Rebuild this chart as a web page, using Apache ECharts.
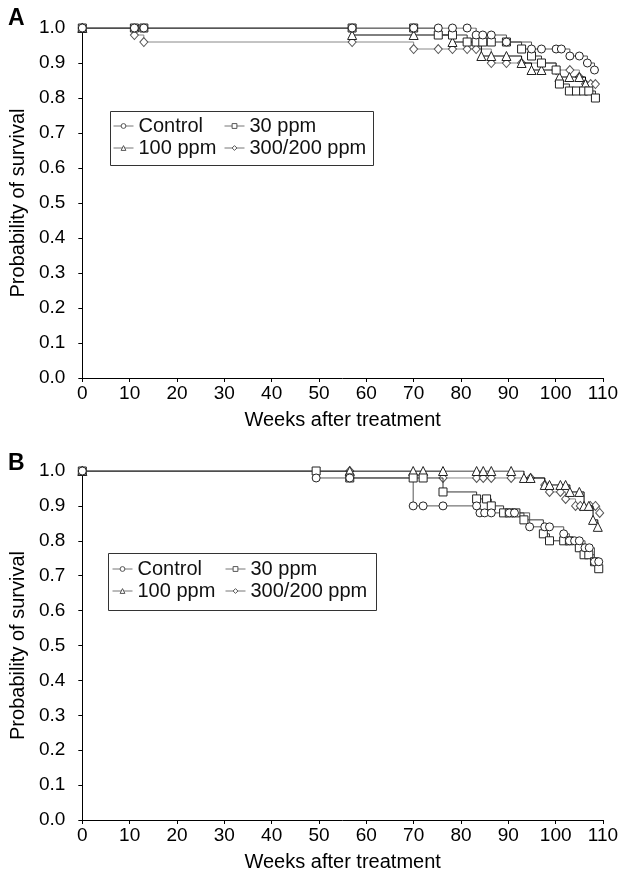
<!DOCTYPE html>
<html>
<head>
<meta charset="utf-8">
<title>Survival</title>
<script src="https://cdn.jsdelivr.net/npm/echarts@6/dist/echarts.min.js"></script>
<style>
  html, body { margin: 0; padding: 0; background: #fff; }
  #chart { width: 644px; height: 874px; }
</style>
</head>
<body>
<div id="chart"></div>
<script>
// Kaplan-Meier points: [week, probability]
var seriesNames = ['Control', '30 ppm', '100 ppm', '300/200 ppm'];
var xTicks = [0, 10, 20, 30, 40, 50, 60, 70, 80, 90, 100, 110];

// panel A
var aControl = [[0, 1], [11, 1], [13, 1], [57, 1], [70, 1], [75.2, 1], [78.2, 1], [81.3, 1], [83.2, 0.98], [84.6, 0.98], [86.4, 0.98],
	[89.6, 0.96], [94.9, 0.94], [97, 0.94], [100.1, 0.94], [101.2, 0.94], [103, 0.92], [105, 0.92], [106.7, 0.90], [108.2, 0.88]];
var a30 = [[0, 1], [11, 1], [13, 1], [57, 1], [70, 1], [75.2, 0.98], [78.2, 0.98], [81.3, 0.96], [83.2, 0.96], [84.6, 0.96], [86.4, 0.96],
	[89.6, 0.96], [92.8, 0.94], [94.9, 0.92], [97, 0.90], [100.1, 0.88], [100.8, 0.84], [102.9, 0.82], [104.4, 0.82], [105.9, 0.82], [107, 0.82], [108.4, 0.80]];
var a100 = [[0, 1], [57, 0.98], [70, 0.98], [78.2, 0.96], [84.3, 0.92], [86.4, 0.92], [89.6, 0.92], [92.8, 0.90], [94.9, 0.88], [97, 0.88],
	[100.8, 0.86], [102.9, 0.86], [105, 0.86], [106.3, 0.84]];
var a300 = [[0, 1], [11, 0.98], [13, 0.96], [57, 0.96], [70, 0.94], [75.2, 0.94], [78.2, 0.94], [81.3, 0.94], [83.2, 0.94], [86.4, 0.90],
	[89.6, 0.90], [92.8, 0.90], [100.1, 0.88], [103, 0.88], [105, 0.86], [106.3, 0.84], [107.4, 0.84], [108.4, 0.84]];

// panel B
var bControl = [[0, 1], [49.4, 0.98], [56.5, 0.98], [69.9, 0.90], [72, 0.90], [76.2, 0.90], [83.3, 0.90], [84, 0.88], [85, 0.88], [86.4, 0.88],
	[90.2, 0.88], [91.3, 0.88], [94.5, 0.84], [97.7, 0.84], [98.7, 0.84], [101.7, 0.82], [102.9, 0.80], [104, 0.80], [105, 0.80],
	[106.2, 0.78], [107.1, 0.78], [108.2, 0.74], [109.1, 0.74]];
var b30 = [[0, 1], [49.4, 1], [56.5, 0.98], [69.9, 0.98], [72, 0.98], [76.2, 0.94], [83.3, 0.92], [85.4, 0.92], [86.4, 0.90], [89, 0.88],
	[90.2, 0.88], [91.6, 0.88], [93.3, 0.86], [97.4, 0.82], [98.7, 0.80], [101.7, 0.80], [102.9, 0.80], [105, 0.78], [106, 0.76],
	[107, 0.76], [108.2, 0.74], [109.1, 0.72]];
var b100 = [[0, 1], [56.5, 1], [69.9, 1], [72, 1], [76.2, 1], [83.3, 1], [84.7, 1], [86.4, 1], [90.6, 1], [93.3, 0.98], [94.7, 0.98],
	[97.7, 0.96], [98.7, 0.96], [101, 0.96], [102.1, 0.96], [103, 0.94], [105, 0.94], [106, 0.90], [107, 0.90], [107.9, 0.86], [108.9, 0.84]];
var b300 = [[0, 1], [56.5, 1], [76.2, 0.98], [83.3, 0.98], [84.7, 0.98], [86.4, 0.98], [90.6, 0.98], [94.7, 0.98], [97.7, 0.96],
	[98.7, 0.94], [101, 0.94], [102.1, 0.92], [104.2, 0.90], [105.2, 0.90], [107.3, 0.90], [108.4, 0.90], [109.3, 0.88]];

var FONT = 'Liberation Sans';
var looks = {
	'Control': { symbol: 'circle', size: 8, line: '#555', border: '#222' },
	'30 ppm': { symbol: 'rect', size: 8, line: '#333', border: '#222' },
	'100 ppm': { symbol: 'triangle', size: 9, line: '#000', border: '#222' },
	'300/200 ppm': { symbol: 'diamond', size: [8, 9], line: '#888', border: '#555' }
};

function makeSeries(name, data, idx) {
	var l = looks[name];
	return {
		name: name,
		type: 'line',
		step: 'end',
		xAxisIndex: idx,
		yAxisIndex: idx,
		data: data,
		symbol: l.symbol,
		symbolSize: l.size,
		showAllSymbol: true,
		itemStyle: { color: '#fff', borderColor: l.border, borderWidth: 1 },
		lineStyle: { color: l.line, width: 1 },
		emphasis: { disabled: true },
		z: name == '300/200 ppm' ? 2 : 3
	};
}

function xAx(idx) {
	return {
		type: 'value', gridIndex: idx, min: 0, max: 110, interval: 10,
		name: 'Weeks after treatment', nameLocation: 'middle', nameGap: 32,
		nameTextStyle: { fontFamily: FONT, fontSize: 20, color: '#000' },
		axisLine: { lineStyle: { color: '#000', width: 1 } },
		axisTick: { length: 4, lineStyle: { color: '#000' } },
		axisLabel: { fontFamily: FONT, fontSize: 19, color: '#000', margin: 6 },
		splitLine: { show: false }
	};
}
function yAx(idx) {
	return {
		type: 'value', gridIndex: idx, min: 0, max: 1, interval: 0.1,
		name: 'Probability of survival', nameLocation: 'middle', nameGap: 50, nameRotate: 90,
		nameTextStyle: { fontFamily: FONT, fontSize: 20, color: '#000' },
		axisLine: { show: true, lineStyle: { color: '#000', width: 1 } },
		axisTick: { show: true, length: 4, lineStyle: { color: '#000' } },
		axisLabel: { fontFamily: FONT, fontSize: 19, color: '#000', margin: 17,
			formatter: function (v) { return v.toFixed(1); } },
		splitLine: { show: false }
	};
}

function leg(names, left, top) {
	return {
		data: names, orient: 'vertical', left: left, top: top,
		itemWidth: 20, itemHeight: 6, itemGap: 2, padding: 0,
		selectedMode: false,
		itemStyle: { color: '#fff', borderColor: '#555', borderWidth: 1 },
		lineStyle: { color: '#777', width: 1 },
		textStyle: { fontFamily: FONT, fontSize: 20, color: '#111' }
	};
}

var chart = echarts.init(document.getElementById('chart'), null, { renderer: 'canvas' });
var option = {
	animation: false,
	backgroundColor: '#fff',
	grid: [
		{ left: 82, top: 28, width: 521, height: 350 },
		{ left: 82, top: 471, width: 521, height: 349 }
	],
	xAxis: [xAx(0), xAx(1)],
	yAxis: [yAx(0), yAx(1)],
	legend: [
		leg(['Control', '100 ppm'], 113, 116),
		leg(['30 ppm', '300/200 ppm'], 224, 116),
		leg(['Control', '100 ppm'], 112, 559),
		leg(['30 ppm', '300/200 ppm'], 225, 559)
	],
	graphic: [
		{ type: 'text', left: 8, top: 7, style: { text: 'A', fontFamily: FONT, fontWeight: 'bold', fontSize: 23, fill: '#000' } },
		{ type: 'text', left: 8, top: 452, style: { text: 'B', fontFamily: FONT, fontWeight: 'bold', fontSize: 23, fill: '#000' } },
		{ type: 'rect', shape: { x: 110.5, y: 111.5, width: 263, height: 54 }, style: { fill: 'none', stroke: '#333', lineWidth: 1 } },
		{ type: 'rect', shape: { x: 108.5, y: 553.5, width: 268, height: 57 }, style: { fill: 'none', stroke: '#333', lineWidth: 1 } }
	],
	series: [
		makeSeries('300/200 ppm', a300, 0),
		makeSeries('100 ppm', a100, 0),
		makeSeries('30 ppm', a30, 0),
		makeSeries('Control', aControl, 0),
		makeSeries('300/200 ppm', b300, 1),
		makeSeries('100 ppm', b100, 1),
		makeSeries('30 ppm', b30, 1),
		makeSeries('Control', bControl, 1)
	]
};
chart.setOption(option);
</script>
</body>
</html>
